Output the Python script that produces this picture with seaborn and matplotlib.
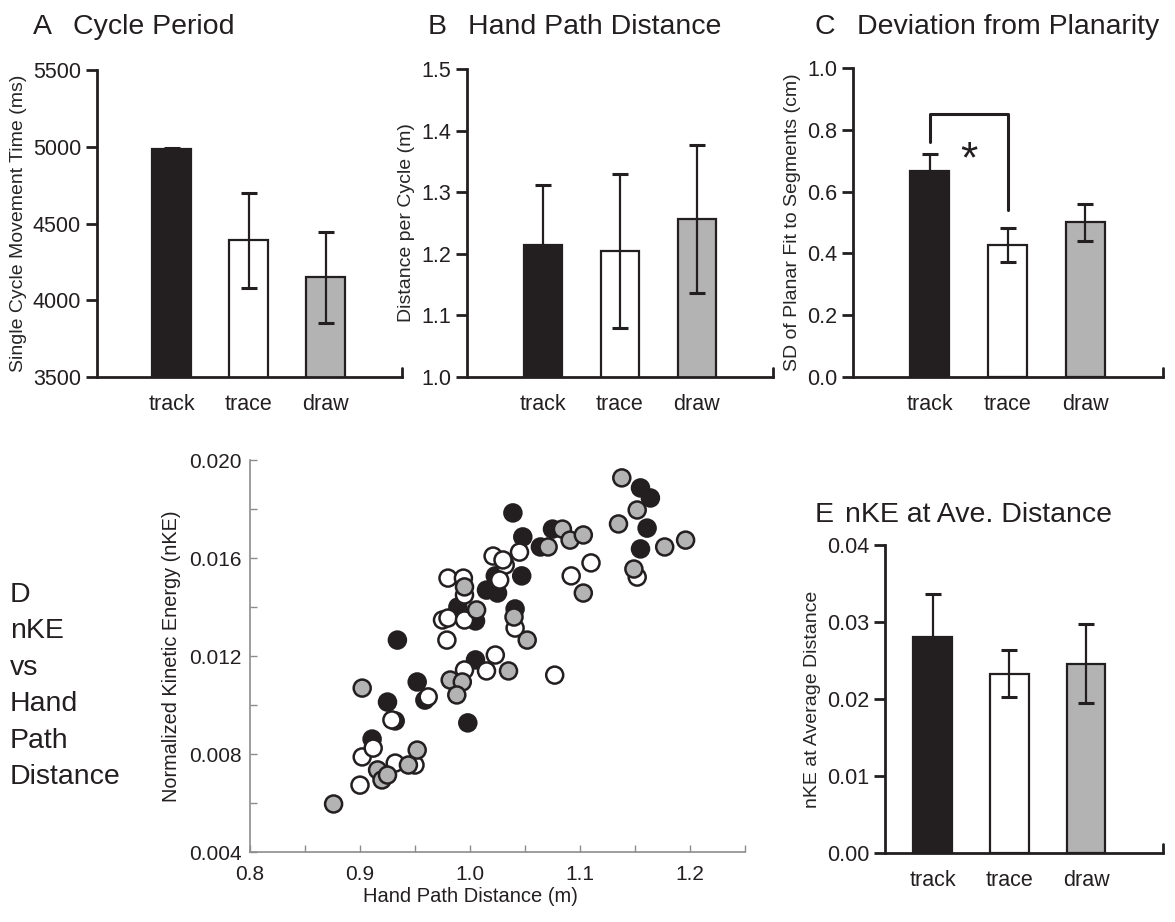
import matplotlib
matplotlib.use("Agg")
import matplotlib.pyplot as plt
import pandas as pd
import seaborn as sns
from matplotlib.ticker import MultipleLocator, FormatStrFormatter

# condition order and fill colours
tasks = ["track", "trace", "draw"]
task_colors = {"track": "#231f20", "trace": "#ffffff", "draw": "#b3b3b3"}
EDGE = "#231f20"

# bar panels: mean and error
cycle_mean = [4985, 4390, 4150]
cycle_err = [6, 310, 295]
dist_mean = [1.215, 1.205, 1.257]
dist_err = [0.096, 0.125, 0.12]
planar_mean = [0.668, 0.428, 0.500]
planar_err = [0.055, 0.055, 0.06]
nke_mean = [0.0281, 0.0233, 0.0246]
nke_err = [0.0055, 0.0031, 0.0051]

# scatter panel D: hand path distance (m) vs normalized kinetic energy
track_dist = [0.934, 0.925, 0.952, 0.959, 0.932, 0.911, 0.989, 1.005, 1.015, 1.025,
              1.023, 1.041, 1.047, 1.039, 1.048, 1.064, 1.075, 1.155, 1.164, 1.161,
              1.155, 1.005, 0.998]
track_nke = [0.01265, 0.01012, 0.01094, 0.01020, 0.00935, 0.00861, 0.01400, 0.01343, 0.01469, 0.01457,
             0.01527, 0.01392, 0.01527, 0.01784, 0.01686, 0.01645, 0.01718, 0.01886, 0.01845, 0.01722,
             0.01637, 0.01184, 0.00927]
trace_dist = [0.900, 0.902, 0.912, 0.932, 0.950, 0.920, 0.929, 0.962, 0.975, 0.980,
              0.979, 0.995, 0.980, 0.994, 0.995, 1.015, 1.023, 1.021, 1.032, 1.027,
              1.045, 1.041, 1.077, 1.092, 1.110, 1.152, 0.995, 1.030]
trace_nke = [0.00673, 0.00788, 0.00824, 0.00763, 0.00755, 0.00714, 0.00939, 0.01033, 0.01347, 0.01355,
             0.01265, 0.01347, 0.01518, 0.01518, 0.01143, 0.01139, 0.01204, 0.01608, 0.01571, 0.01510,
             0.01624, 0.01314, 0.01122, 0.01527, 0.01580, 0.01522, 0.01449, 0.01592]
draw_dist = [0.876, 0.902, 0.952, 0.944, 0.916, 0.920, 0.925, 0.982, 0.993, 0.988,
             1.035, 0.995, 1.006, 1.040, 1.052, 1.071, 1.084, 1.091, 1.103, 1.103,
             1.138, 1.152, 1.135, 1.177, 1.196, 1.149]
draw_nke = [0.00596, 0.01069, 0.00816, 0.00755, 0.00735, 0.00694, 0.00714, 0.01102, 0.01094, 0.01041,
            0.01139, 0.01482, 0.01388, 0.01359, 0.01265, 0.01645, 0.01718, 0.01673, 0.01694, 0.01457,
            0.01927, 0.01796, 0.01739, 0.01645, 0.01673, 0.01555]

sns.set_style("ticks")
plt.rcParams["font.family"] = ["Liberation Sans", "DejaVu Sans"]
plt.rcParams["axes.linewidth"] = 2

W, H = 1175, 922
fig = plt.figure(figsize=(W / 100, H / 100), dpi=100)


def px_axes(left, top, right, bottom):
    return fig.add_axes([left / W, 1 - bottom / H, (right - left) / W, (bottom - top) / H])


def bar_panel(ax, means, errs, ylim, step, ylabel, xlim, fmt):
    df = pd.DataFrame({"task": tasks, "value": means})
    sns.barplot(data=df, x="task", y="value", hue="task", palette=task_colors,
                saturation=1, width=0.5, edgecolor=EDGE, linewidth=1.6,
                legend=False, ax=ax)
    ax.errorbar(range(len(tasks)), means, yerr=errs, fmt="none", ecolor=EDGE,
                elinewidth=1.6, capsize=6, capthick=2.2)
    ax.set_ylim(*ylim)
    ax.set_xlim(*xlim)
    ax.yaxis.set_major_locator(MultipleLocator(step))
    ax.yaxis.set_major_formatter(FormatStrFormatter(fmt))
    ax.set_xlabel("")
    ax.set_ylabel(ylabel, fontsize=14, labelpad=4)
    sns.despine(ax=ax)
    ax.spines["left"].set_color(EDGE)
    ax.spines["bottom"].set_color(EDGE)
    ax.tick_params(axis="y", direction="out", length=8, width=2, labelsize=15.5, colors=EDGE)
    ax.tick_params(axis="x", length=0, pad=12, labelsize=15.5, colors=EDGE)
    # small upward tick closing the x axis on the right
    ax.plot([1, 1], [0, 0.03], transform=ax.transAxes, color=EDGE, lw=2, clip_on=False)


# A  Cycle Period
axA = px_axes(97, 70, 402, 377)
bar_panel(axA, cycle_mean, cycle_err, (3500, 5500), 500,
          "Single Cycle Movement Time (ms)", (-0.97, 2.99), "%d")

# B  Hand Path Distance
axB = px_axes(467, 69, 773, 377)
bar_panel(axB, dist_mean, dist_err, (1.0, 1.5), 0.1,
          "Distance per Cycle (m)", (-0.99, 2.99), "%.1f")

# C  Deviation from Planarity
axC = px_axes(853, 68, 1163, 377)
bar_panel(axC, planar_mean, planar_err, (0.0, 1.0), 0.2,
          "SD of Planar Fit to Segments (cm)", (-0.99, 3.0), "%.1f")
axC.plot([0, 0, 1, 1], [0.76, 0.85, 0.85, 0.54], color=EDGE, lw=2.2)
axC.text(0.5, 0.70, "*", fontsize=32, ha="center", va="center", color=EDGE)

# E  nKE at Ave. Distance
axE = px_axes(885, 545, 1163, 853)
bar_panel(axE, nke_mean, nke_err, (0.0, 0.04), 0.01,
          "nKE at Average Distance", (-0.62, 3.0), "%.2f")

# D  nKE vs Hand Path Distance
scatter_df = pd.concat([
    pd.DataFrame({"dist": track_dist, "nke": track_nke, "task": "track"}),
    pd.DataFrame({"dist": trace_dist, "nke": trace_nke, "task": "trace"}),
    pd.DataFrame({"dist": draw_dist, "nke": draw_nke, "task": "draw"}),
], ignore_index=True)
axD = px_axes(250, 460, 745, 852)
sns.scatterplot(data=scatter_df, x="dist", y="nke", hue="task", palette=task_colors,
                edgecolor=EDGE, linewidth=1.8, s=150, legend=False, ax=axD)
axD.set_xlim(0.8, 1.25)
axD.set_ylim(0.004, 0.020)
axD.xaxis.set_major_locator(MultipleLocator(0.1))
axD.xaxis.set_minor_locator(MultipleLocator(0.05))
axD.yaxis.set_major_locator(MultipleLocator(0.004))
axD.yaxis.set_minor_locator(MultipleLocator(0.002))
axD.xaxis.set_major_formatter(FormatStrFormatter("%.1f"))
axD.yaxis.set_major_formatter(FormatStrFormatter("%.3f"))
sns.despine(ax=axD)
for side in ("left", "bottom"):
    axD.spines[side].set_color("#8c8c8c")
    axD.spines[side].set_linewidth(1.2)
axD.tick_params(which="both", direction="in", length=5, width=1, color="#8c8c8c",
                labelsize=15, labelcolor=EDGE)
axD.tick_params(axis="x", pad=9)
axD.tick_params(axis="y", pad=6)
axD.set_xlabel("Hand Path Distance (m)", fontsize=14.5, color=EDGE)
axD.xaxis.set_label_coords(0.446, -0.09)
axD.set_ylabel("Normalized Kinetic Energy (nKE)", fontsize=14.3, color=EDGE, labelpad=6)

# panel titles
title_kw = dict(fontsize=20.5, color=EDGE, va="baseline")
fig.text(33 / W, 1 - 34 / H, "A", **title_kw)
fig.text(73 / W, 1 - 34 / H, "Cycle Period", **title_kw)
fig.text(428 / W, 1 - 34 / H, "B", **title_kw)
fig.text(468 / W, 1 - 34 / H, "Hand Path Distance", **title_kw)
fig.text(815 / W, 1 - 34 / H, "C", **title_kw)
fig.text(857 / W, 1 - 34 / H, "Deviation from Planarity", **title_kw)
fig.text(815 / W, 1 - 522 / H, "E", **title_kw)
fig.text(845 / W, 1 - 522 / H, "nKE at Ave. Distance", **title_kw)
fig.text(10 / W, 1 - 582 / H, "D\nnKE\nvs\nHand\nPath\nDistance", fontsize=20.5,
         color=EDGE, va="top", linespacing=1.52)

fig.savefig("out.png", dpi=100)
